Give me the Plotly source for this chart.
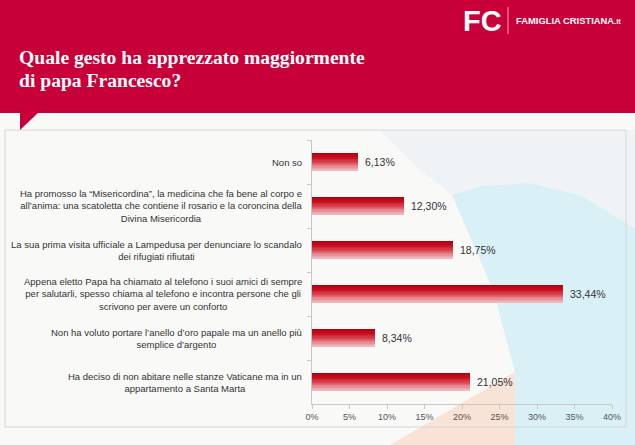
import plotly.graph_objects as go

# ---- data ----
categories = [
    "Non so",
    "Ha promosso la “Misericordina”, la medicina che fa bene al corpo e\nall’anima: una scatoletta che contiene il rosario e la coroncina della\nDivina Misericordia",
    "La sua prima visita ufficiale a Lampedusa per denunciare lo scandalo\ndei rifugiati rifiutati",
    "Appena eletto Papa ha chiamato al telefono i suoi amici di sempre\nper salutarli, spesso chiama al telefono e incontra persone che gli\nscrivono per avere un conforto",
    "Non ha voluto portare l’anello d’oro papale ma un anello più\nsemplice d’argento",
    "Ha deciso di non abitare nelle stanze Vaticane ma in un\nappartamento a Santa Marta",
]
values = [6.13, 12.30, 18.75, 33.44, 8.34, 21.05]
tick_vals = [0, 5, 10, 15, 20, 25, 30, 35, 40]
tick_text = ["0%", "5%", "10%", "15%", "20%", "25%", "30%", "35%", "40%"]
title_lines = ["Quale gesto ha apprezzato maggiormente", "di papa Francesco?"]

W, H = 635, 445
cat_keys = [c.replace("\n", "<br>") for c in categories]


def px(x, y):
    return x / W, 1 - y / H


def path(points):
    s = ""
    for i, (x, y) in enumerate(points):
        X, Y = px(x, y)
        s += ("M" if i == 0 else "L") + f"{X:.5f},{Y:.5f} "
    return s + "Z"


def lerp_color(stops, t):
    for (t0, c0), (t1, c1) in zip(stops, stops[1:]):
        if t0 <= t <= t1:
            f = (t - t0) / (t1 - t0)
            return "rgb(%d,%d,%d)" % tuple(round(a + (b - a) * f) for a, b in zip(c0, c1))
    return "rgb(%d,%d,%d)" % stops[-1][1]


grad = [(0.0, (176, 0, 16)), (0.3, (204, 20, 36)), (0.65, (222, 95, 105)), (1.0, (239, 182, 188))]

fig = go.Figure()

bar_w = 0.39
N = 14
for i in range(N):
    t = i / (N - 1)
    fig.add_trace(go.Bar(
        y=cat_keys, x=values, orientation="h",
        width=bar_w / N + 0.002, offset=-bar_w / 2 + i * bar_w / N,
        marker=dict(color=lerp_color(grad, t), line=dict(width=0)),
        showlegend=False, hoverinfo="skip",
    ))

annotations = []
# value labels
for c, v in zip(cat_keys, values):
    annotations.append(dict(
        x=v, y=c, xref="x", yref="y", xanchor="left", yanchor="middle",
        xshift=5, showarrow=False,
        text=f"{v:.2f}".replace(".", ",") + "%",
        font=dict(family="Liberation Sans, Arial", size=10.5, color="#333333"),
    ))
# category labels
for c in cat_keys:
    annotations.append(dict(
        x=304 / W, y=c, xref="paper", yref="y", xanchor="right", yanchor="middle",
        align="center", showarrow=False, text=c,
        font=dict(family="Liberation Sans, Arial", size=9.5, color="#333333"),
    ))
# title
for k, line in enumerate(title_lines):
    X, Y = px(17, 57 + k * 24)
    annotations.append(dict(
        x=X, y=Y, xref="paper", yref="paper", xanchor="left", yanchor="middle",
        showarrow=False, text="<b>" + line + "</b>",
        font=dict(family="Liberation Serif, Georgia, serif", size=19.6, color="white"),
    ))
# logo
X, Y = px(461, 21)
annotations.append(dict(x=X, y=Y, xref="paper", yref="paper", xanchor="left", yanchor="middle",
                        showarrow=False, text="<b>FC</b>",
                        font=dict(family="Liberation Sans, Arial", size=29, color="white")))
X, Y = px(514, 21)
annotations.append(dict(x=X, y=Y, xref="paper", yref="paper", xanchor="left", yanchor="middle",
                        showarrow=False,
                        text="<b>FAMIGLIA CRISTIANA</b><b style='font-size:7.5px'>.it</b>",
                        font=dict(family="Liberation Sans, Arial", size=9.4, color="white")))

shapes = [
    # page background tones inside / around the box
    dict(type="path", xref="paper", yref="paper", layer="below", line=dict(width=0),
         fillcolor="#eff3f6", path=path([(380, 130), (635, 130), (635, 228), (580, 195), (530, 183), (480, 186), (452, 195), (420, 170)])),
    dict(type="path", xref="paper", yref="paper", layer="below", line=dict(width=0),
         fillcolor="#daf0f7", path=path([(452, 195), (480, 186), (530, 183), (580, 195), (635, 228), (635, 445), (515, 445), (515, 372), (493, 290)])),
    dict(type="path", xref="paper", yref="paper", layer="below", line=dict(width=0),
         fillcolor="#f9e3d6", path=path([(515, 372), (515, 445), (390, 445)])),
    # chart box
    dict(type="rect", xref="paper", yref="paper", layer="below",
         x0=5 / W, x1=626 / W, y0=1 - 427 / H, y1=1 - 130 / H,
         line=dict(color="#d6d6d6", width=1), fillcolor="rgba(0,0,0,0)"),
    # red header
    dict(type="rect", xref="paper", yref="paper", layer="below",
         x0=0, x1=1, y0=1 - 113 / H, y1=1, line=dict(width=0), fillcolor="#c8003a"),
    dict(type="path", xref="paper", yref="paper", layer="below", line=dict(width=0),
         fillcolor="#c8003a", path=path([(20, 112), (39, 112), (20, 130)])),
    # logo separator
    dict(type="line", xref="paper", yref="paper", layer="above",
         x0=508 / W, x1=508 / W, y0=1 - 7 / H, y1=1 - 34 / H,
         line=dict(color="rgba(255,200,210,0.8)", width=1)),
]

fig.update_layout(
    template="none",
    width=W, height=H,
    margin=dict(l=0, r=0, t=0, b=0, pad=0, autoexpand=False),
    paper_bgcolor="#f9f9f8", plot_bgcolor="rgba(0,0,0,0)",
    barmode="overlay", bargap=0,
    showlegend=False,
    annotations=annotations, shapes=shapes,
    xaxis=dict(
        domain=[312 / W, 612 / W], range=[0, 40], automargin=False,
        tickvals=tick_vals, ticktext=tick_text,
        tickfont=dict(family="Liberation Sans, Arial", size=9, color="#555555"),
        showgrid=False, zeroline=False,
        showline=True, linecolor="#c8c8c8", linewidth=1,
        ticks="outside", ticklen=4, tickcolor="#c8c8c8",
    ),
    yaxis=dict(
        domain=[1 - 404 / H, 1 - 140 / H], automargin=False,
        type="category", categoryorder="array", categoryarray=cat_keys,
        autorange="reversed",
        showticklabels=False, showgrid=False, zeroline=False,
        showline=True, linecolor="#c8c8c8", linewidth=1,
        ticks="outside", ticklen=4, tickcolor="#c8c8c8", tickson="boundaries",
    ),
)

fig.write_html("out.html")
